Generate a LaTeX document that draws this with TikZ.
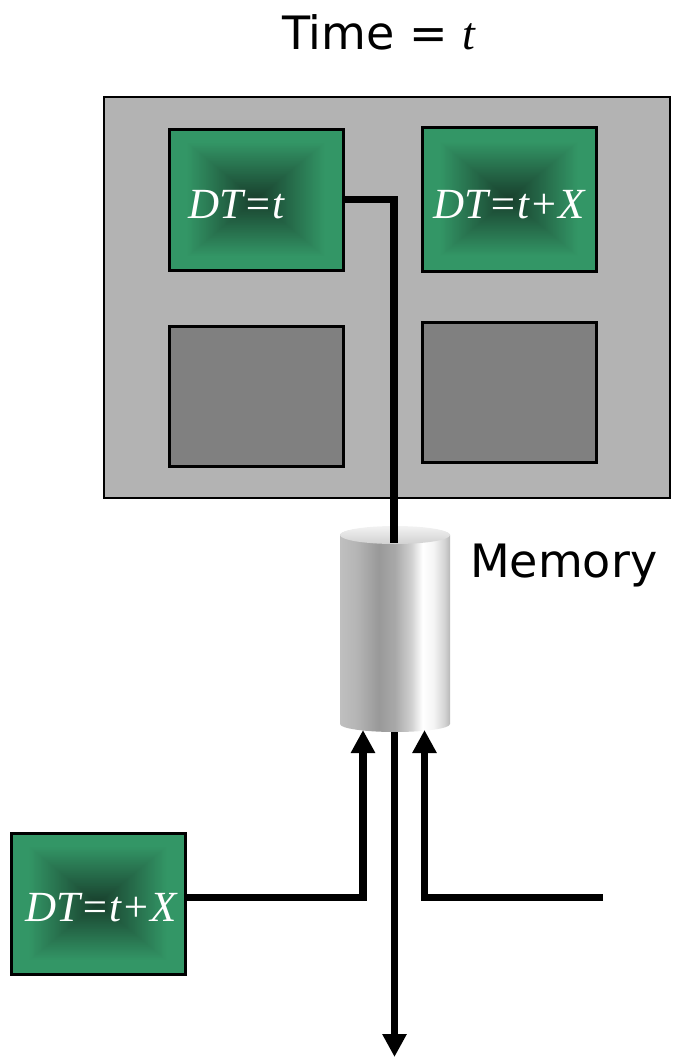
\documentclass[tikz,border=0pt]{standalone}
\usepackage{fontspec}
\usetikzlibrary{arrows.meta}
\newfontfamily\serifit{Liberation Serif}
\newfontfamily\roundsans{DejaVu Sans}
\definecolor{gedge}{RGB}{51,150,102}
\definecolor{gdark}{RGB}{24,62,44}
\definecolor{panelgray}{RGB}{179,179,179}
\definecolor{boxgray}{RGB}{128,128,128}
\pgfdeclarehorizontalshading{cylbody}{100bp}{%
  color(0bp)=(black!25);
  color(25bp)=(black!25);
  color(32.5bp)=(black!29);
  color(42.5bp)=(black!40);
  color(50bp)=(black!34);
  color(57.5bp)=(black!18);
  color(62.5bp)=(white);
  color(67.5bp)=(black!4);
  color(72.5bp)=(black!17);
  color(75bp)=(black!28);
  color(100bp)=(black!28)}
\tikzset{
  panel/.style={draw=black, line width=2.5pt, fill=panelgray, inner sep=0pt, outer sep=0pt},
  graybox/.style={draw=black, line width=3pt, fill=boxgray, minimum width=174pt, minimum height=140pt, inner sep=0pt, outer sep=0pt},
  greenbox/.style={draw=black, line width=3pt, minimum width=174pt, minimum height=141pt, inner sep=0pt, outer sep=0pt,
    path picture={
      \fill[gedge] (path picture bounding box.north west) rectangle (path picture bounding box.south east);
      \foreach \i [evaluate=\i as \f using {0.8*(1-\i/80)}, evaluate=\i as \c using {100*(1-\i/80)}] in {0,...,79} {
        \fill[gedge!\c!gdark] ([shift={(-87*\f,-72*\f)}]path picture bounding box.center) rectangle ([shift={(87*\f,72*\f)}]path picture bounding box.center);
      }
    }},
  dtlabel/.style={anchor=base west, inner sep=0pt, text=white, font=\serifit\itshape\fontsize{43}{43}\selectfont},
  biglabel/.style={anchor=base west, inner sep=0pt, font=\roundsans\fontsize{46}{46}\selectfont},
  conn/.style={draw=black, line width=7.5pt},
  arr/.style={conn, -{Triangle[width=23pt,length=23pt]}}
}
\begin{document}
\begin{tikzpicture}[x=1pt,y=-1pt]
\useasboundingbox (0,0) rectangle (672,1057);
% title
\node[biglabel] (title) at (282,50) {Time = {\serifit\itshape t}};
% panel
\node[panel, minimum width=566pt, minimum height=401pt] (panel) at (387,297.5) {};
\node[greenbox] (b1) at (256,199.5) {};
\node[greenbox, minimum height=144pt] (b2) at (509,199) {};
\node[graybox] (b4) at (256,396) {};
\node[graybox] (b5) at (509,392) {};
\node[dtlabel] (t1) at (188,218) {DT=t};
\node[dtlabel] (t2) at (433,218) {DT=t+X};
% memory cylinder
\node[inner sep=0pt, outer sep=0pt, minimum width=110pt, minimum height=197pt] (mem) at (395,630) {};
\shade[shading=cylbody] (340,535) -- (340,724) arc[start angle=180, end angle=0, x radius=55, y radius=8] -- (450,535) arc[start angle=0, end angle=-180, x radius=55, y radius=8] -- cycle;
\shade[top color=black!5, bottom color=black!18] (395,535) ellipse[x radius=55, y radius=9];
\node[biglabel] (memlabel) at (470,577) {Memory};
\coordinate (memIn) at (394,543);
\draw[conn] (b1.east) -| (memIn);
% bottom box
\node[greenbox] (b3) at (98,903.5) {};
\node[dtlabel] (t3) at (25,921) {DT=t+X};
\coordinate (jL) at (363,897.5);
\coordinate (inL) at (363,730);
\coordinate (srcR) at (603,897.5);
\coordinate (jR) at (424.5,897.5);
\coordinate (inR) at (424.5,730);
\coordinate (outT) at (394.5,732);
\coordinate (outB) at (394.5,1057);
\draw[arr] (b3.east |- jL) -- (jL) -- (inL);
\draw[arr] (srcR) -- (jR) -- (inR);
\draw[arr] (outT) -- (outB);
\end{tikzpicture}
\end{document}
